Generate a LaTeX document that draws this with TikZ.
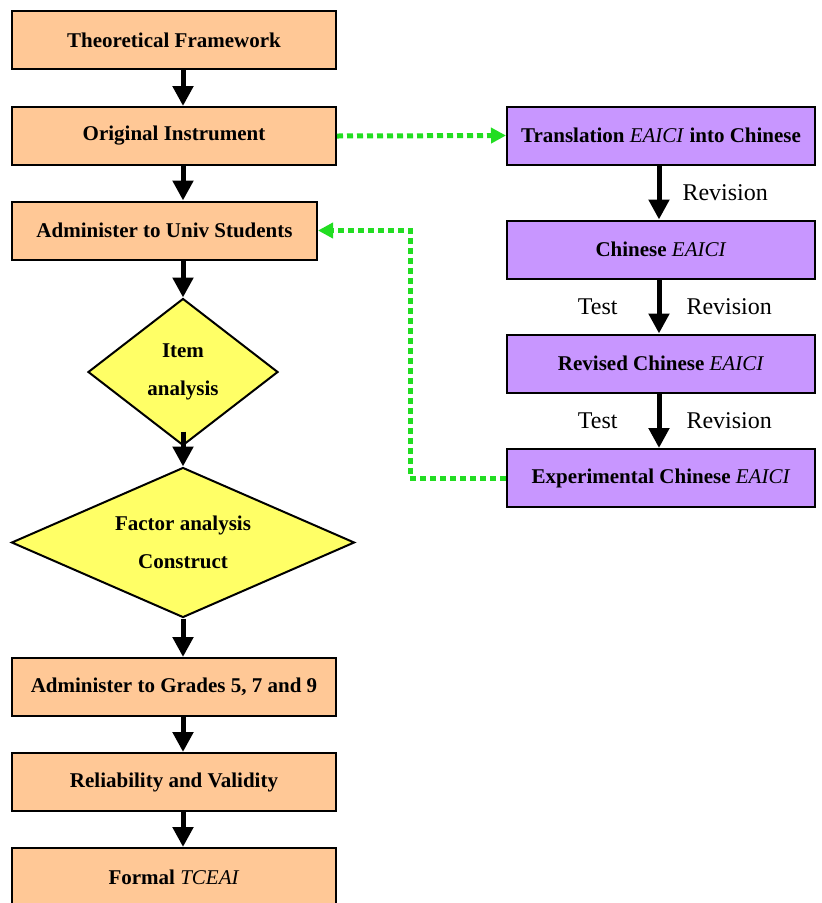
\documentclass[tikz,border=0pt]{standalone}
\usepackage{fontspec}
\setmainfont{Liberation Serif}
\usepackage{xcolor}
\usepackage{tikz}
\usetikzlibrary{shapes.geometric, arrows.meta, positioning}

\definecolor{peach}{RGB}{255,200,150}
\definecolor{lilac}{RGB}{200,150,255}
\definecolor{lemon}{RGB}{255,255,102}
\definecolor{lime}{RGB}{34,221,34}

\begin{document}
\begin{tikzpicture}[x=1pt, y=-1pt,
  box/.style={draw, line width=2pt, minimum height=58pt, inner sep=0pt,
    font=\fontsize{21}{25}\selectfont\bfseries},
  stage/.style={box, fill=peach, minimum width=324pt},
  trans/.style={box, fill=lilac, minimum width=308pt},
  check/.style={diamond, draw, line width=2pt, fill=lemon, inner sep=0pt,
    align=center, font=\fontsize{21}{38}\selectfont\bfseries},
  flow/.style={line width=5pt, -{Triangle[length=20pt,width=20pt]}},
  link/.style={lime, line width=5pt, dash pattern=on 6pt off 4pt,
    -{Triangle[length=15pt,width=15pt]}},
  note/.style={inner sep=0pt, font=\fontsize{24}{28}\selectfont}]
\useasboundingbox[fill=white] (0,0) rectangle (822,903);

\coordinate (lcol) at (183,0);
\coordinate (rcol) at (659,0);
\coordinate (loop) at (410,0);

% main column
\node[stage] (theory) at (174,40) {Theoretical Framework};
\node[stage] (orig) at (174,136) {Original Instrument};
\node[stage, minimum width=305pt] (univ) at (164.5,230.5) {Administer to Univ Students};
\node[check, minimum width=190pt, minimum height=147pt, shape aspect=1.29] (item) at (183,372) {Item\\analysis};
\node[check, minimum width=343pt, minimum height=150pt, shape aspect=2.29] (factor) at (183,542.5) {Factor analysis\\Construct};
\node[stage] (grades) at (174,687) {Administer to Grades 5, 7 and 9};
\node[stage] (relval) at (174,782) {Reliability and Validity};
\node[stage] (formal) at (174,877) {Formal \textmd{\itshape TCEAI}};

% translation column
\node[trans] (transl) at (661,135.5) {Translation \textmd{\itshape EAICI} into Chinese};
\node[trans] (chin) at (661,249.5) {Chinese \textmd{\itshape EAICI}};
\node[trans] (revchin) at (661,363.5) {Revised Chinese \textmd{\itshape EAICI}};
\node[trans] (expchin) at (661,478) {Experimental Chinese \textmd{\itshape EAICI}};

\foreach \a/\b in {theory/orig, orig/univ, univ/item, factor/grades, grades/relval, relval/formal}
  \draw[flow] (\a.south -| lcol) -- (\b.north -| lcol);
\draw[flow] ([yshift=15pt]item.south) -- (factor.north);

\draw[flow] (transl.south -| rcol) -- node[note, right=21pt] {Revision} (chin.north -| rcol);
\draw[flow] (chin.south -| rcol) -- node[note, right=25pt] {Revision} node[note, left=39pt] {Test} (revchin.north -| rcol);
\draw[flow] (revchin.south -| rcol) -- node[note, right=25pt] {Revision} node[note, left=39pt] {Test} (expchin.north -| rcol);

% dotted links
\draw[link] (orig.east) -- (transl.west);
\draw[link] (expchin.west) -| (loop |- univ.east) -- (univ.east);
\end{tikzpicture}
\end{document}
